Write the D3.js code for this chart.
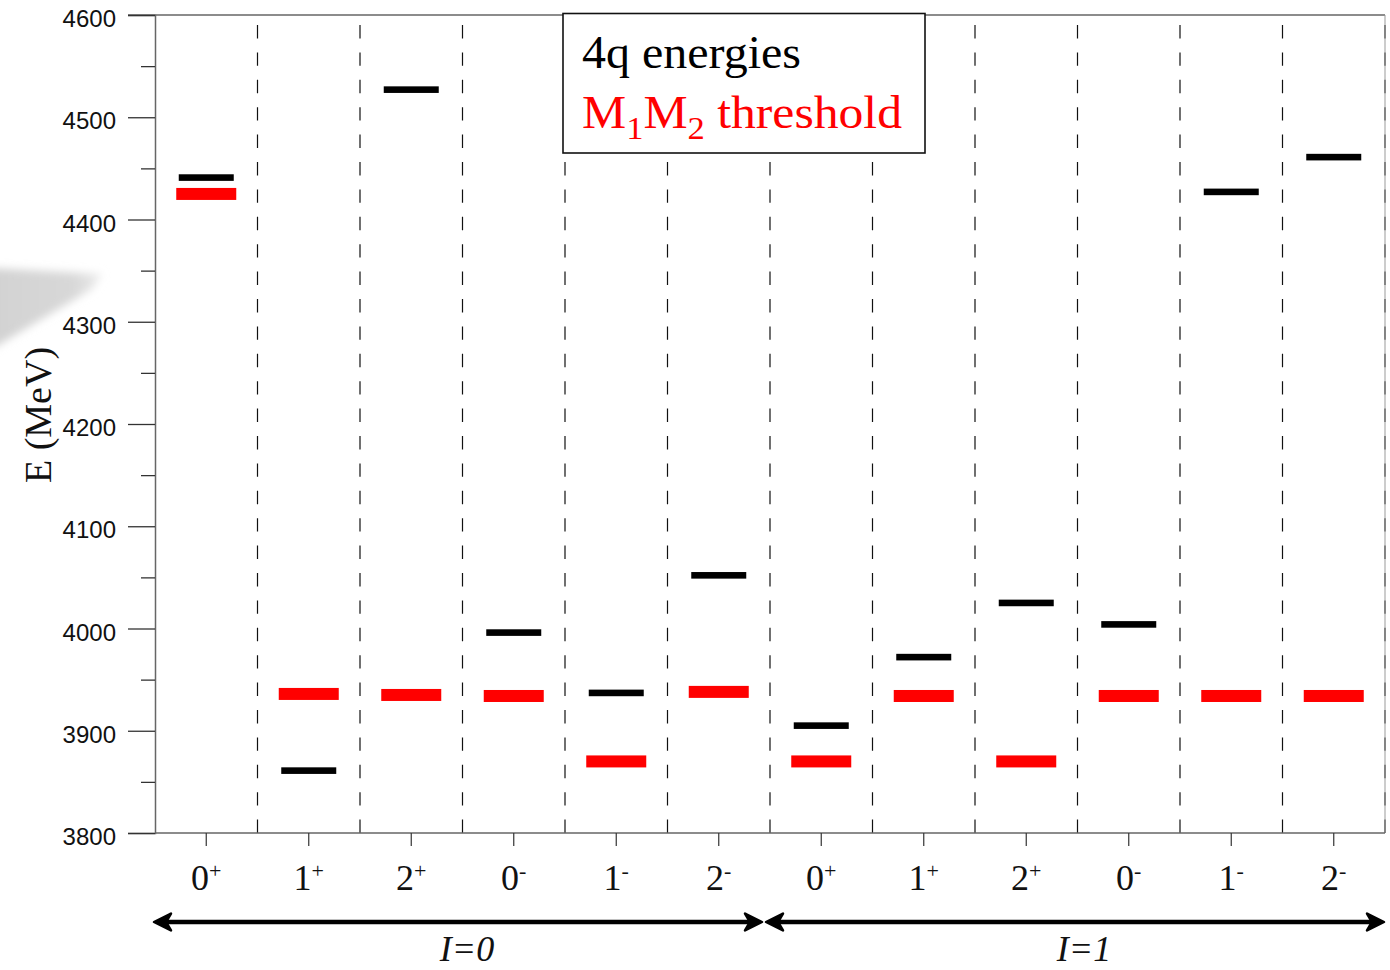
<!DOCTYPE html>
<html>
<head>
<meta charset="utf-8">
<script src="https://cdn.jsdelivr.net/npm/d3@7/dist/d3.min.js"></script>
<style>
  html, body { margin: 0; padding: 0; background: #fff; }
  svg { display: block; }
</style>
</head>
<body>
<svg id="chart" width="1390" height="970"></svg>
<script>
// ---- data ----
const spins    = ["0", "1", "2", "0", "1", "2", "0", "1", "2", "0", "1", "2"];
const parities = ["+", "+", "+", "-", "-", "-", "+", "+", "+", "-", "-", "-"];
const energies4q = [4441, 3861, 4527, 3996, 3937, 4052, 3905, 3972, 4025, 4004, 4427, 4461];
const thresholds = [4425, 3936, 3935, 3934, 3870, 3938, 3870, 3934, 3870, 3934, 3934, 3934];
const groupLabels = ["I=0", "I=1"];
const yTicksMajor = [3800, 3900, 4000, 4100, 4200, 4300, 4400, 4500, 4600];
const yTicksMinor = [3850, 3950, 4050, 4150, 4250, 4350, 4450, 4550];
const yLabel = "E (MeV)";
const legend4q = "4q energies";
const legendThr = ["M", "1", "M", "2", " threshold"];

// ---- layout ----
(function () {
const svg = d3.select("#chart");
const pL = 155, pR = 1385, pT = 15, pB = 833;
const idx = d3.range(spins.length);
const x = d3.scaleBand().domain(idx).range([pL, pR]).padding(0);
const y = d3.scaleLinear().domain([3800, 4600]).range([pB, pT]);
const serif = "'Liberation Serif', 'Times New Roman', Times, serif";
const sans = "'Liberation Sans', Arial, Helvetica, sans-serif";

// gray decorative wedge
const defs = svg.append("defs");
defs.append("filter").attr("id", "blur").attr("x", "-20%").attr("y", "-20%").attr("width", "140%").attr("height", "140%")
  .append("feGaussianBlur").attr("stdDeviation", 4);
const grad = defs.append("linearGradient").attr("id", "wedgeGrad").attr("x1", "0").attr("x2", "1").attr("y1", "0").attr("y2", "0");
grad.append("stop").attr("offset", "0").attr("stop-color", "#d2d2d2");
grad.append("stop").attr("offset", "0.75").attr("stop-color", "#d8d8d8");
grad.append("stop").attr("offset", "1").attr("stop-color", "#ededed");
svg.append("path")
  .attr("d", "M-10,268 L102,274 L92,289 L-10,350 Z")
  .attr("fill", "url(#wedgeGrad)")
  .attr("filter", "url(#blur)");

// dashed column separators (drawn bottom-up)
const bounds = idx.slice(1).map(i => x(i)).concat([pR]);
svg.append("g").selectAll("line").data(bounds).join("line")
  .attr("x1", d => d).attr("x2", d => d)
  .attr("y1", pB).attr("y2", pT)
  .attr("stroke", "#111").attr("stroke-width", 1.2)
  .attr("stroke-dasharray", "13.4 14");

// frame: top and right
svg.append("line").attr("x1", 128).attr("x2", pR).attr("y1", pT).attr("y2", pT)
  .attr("stroke", "#666").attr("stroke-width", 1.3);
svg.append("line").attr("x1", pR).attr("x2", pR).attr("y1", pT).attr("y2", pB)
  .attr("stroke", "#999").attr("stroke-width", 1);

// y axis
const yAxisG = svg.append("g").attr("transform", `translate(${pL},0)`)
  .call(d3.axisLeft(y).tickValues(yTicksMajor).tickSize(27).tickPadding(12).tickFormat(d3.format("d")));
yAxisG.select(".domain").attr("stroke", "#666").attr("stroke-width", 1.5);
yAxisG.selectAll(".tick line").attr("stroke", "#333").attr("stroke-width", 1.3);
yAxisG.selectAll(".tick text").attr("font-family", sans).attr("font-size", 24).attr("fill", "#111")
  .attr("dy", "0.48em");
const yMinorG = svg.append("g").attr("transform", `translate(${pL},0)`)
  .call(d3.axisLeft(y).tickValues(yTicksMinor).tickSize(14).tickFormat(""));
yMinorG.select(".domain").remove();
yMinorG.selectAll(".tick line").attr("stroke", "#333").attr("stroke-width", 1.3);

// x axis
const xAxisG = svg.append("g").attr("transform", `translate(0,${pB})`)
  .call(d3.axisBottom(x).tickSize(13).tickFormat(""));
xAxisG.select(".domain").attr("stroke", "#666").attr("stroke-width", 1.5).attr("d", `M${pL},0H${pR}`);
xAxisG.selectAll(".tick line").attr("stroke", "#333").attr("stroke-width", 1.2);

// x labels
const xl = svg.append("g").selectAll("text").data(idx).join("text")
  .attr("x", i => x(i) + x.bandwidth() / 2)
  .attr("y", 890)
  .attr("text-anchor", "middle")
  .attr("font-family", serif).attr("font-size", 36).attr("fill", "#111");
xl.append("tspan").text(i => spins[i]);
xl.append("tspan").attr("font-size", 22).attr("dy", -12).text(i => parities[i]);

// threshold bars (red)
svg.append("g").selectAll("rect").data(idx).join("rect")
  .attr("x", i => x(i) + x.bandwidth() / 2 - 30)
  .attr("width", 60)
  .attr("y", i => y(thresholds[i]) - 6)
  .attr("height", 12)
  .attr("fill", "#ff0000");

// 4q energy bars (black)
svg.append("g").selectAll("rect").data(idx).join("rect")
  .attr("x", i => x(i) + x.bandwidth() / 2 - 27.5)
  .attr("width", 55)
  .attr("y", i => y(energies4q[i]) - 3.3)
  .attr("height", 6.6)
  .attr("fill", "#000");

// group arrows
const groups = [
  { label: groupLabels[0], x0: x(0) - 1, x1: x(6) - 8 },
  { label: groupLabels[1], x0: x(6) - 4, x1: pR - 1 }
];
const ay = 922;
const ag = svg.append("g");
groups.forEach(g => {
  ag.append("line").attr("x1", g.x0 + 6).attr("x2", g.x1 - 6).attr("y1", ay).attr("y2", ay)
    .attr("stroke", "#000").attr("stroke-width", 4.3);
  ag.append("path")
    .attr("d", `M${g.x0},${ay} L${g.x0 + 17},${ay - 8.5} L${g.x0 + 12},${ay} L${g.x0 + 17},${ay + 8.5} Z`)
    .attr("fill", "#000").attr("stroke", "#000").attr("stroke-width", 2.5).attr("stroke-linejoin", "round");
  ag.append("path")
    .attr("d", `M${g.x1},${ay} L${g.x1 - 17},${ay - 8.5} L${g.x1 - 12},${ay} L${g.x1 - 17},${ay + 8.5} Z`)
    .attr("fill", "#000").attr("stroke", "#000").attr("stroke-width", 2.5).attr("stroke-linejoin", "round");
  ag.append("text")
    .attr("x", (g.x0 + g.x1) / 2 + 9).attr("y", 961)
    .attr("text-anchor", "middle")
    .attr("font-family", serif).attr("font-style", "italic").attr("font-size", 36).attr("fill", "#111")
    .text(g.label);
});

// y label
svg.append("text")
  .attr("transform", "translate(51,415) rotate(-90)")
  .attr("text-anchor", "middle")
  .attr("font-family", serif).attr("font-size", 38).attr("fill", "#111")
  .text(yLabel);

// legend
const lg = svg.append("g");
lg.append("rect").attr("x", 563).attr("y", 13.5).attr("width", 362).attr("height", 139.5)
  .attr("fill", "#fff").attr("stroke", "#111").attr("stroke-width", 1.6);
lg.append("text").attr("x", 582).attr("y", 68)
  .attr("font-family", serif).attr("font-size", 46).attr("fill", "#000")
  .attr("textLength", 219).attr("lengthAdjust", "spacingAndGlyphs")
  .text(legend4q);
const lt = lg.append("text").attr("x", 582).attr("y", 128)
  .attr("font-family", serif).attr("font-size", 46).attr("fill", "#ff0000")
  .attr("textLength", 320).attr("lengthAdjust", "spacingAndGlyphs");
lt.append("tspan").text(legendThr[0]);
lt.append("tspan").attr("font-size", 32).attr("dy", 11).text(legendThr[1]);
lt.append("tspan").attr("dy", -11).text(legendThr[2]);
lt.append("tspan").attr("font-size", 32).attr("dy", 11).text(legendThr[3]);
lt.append("tspan").attr("dy", -11).text(legendThr[4]);
})();
</script>
</body>
</html>
